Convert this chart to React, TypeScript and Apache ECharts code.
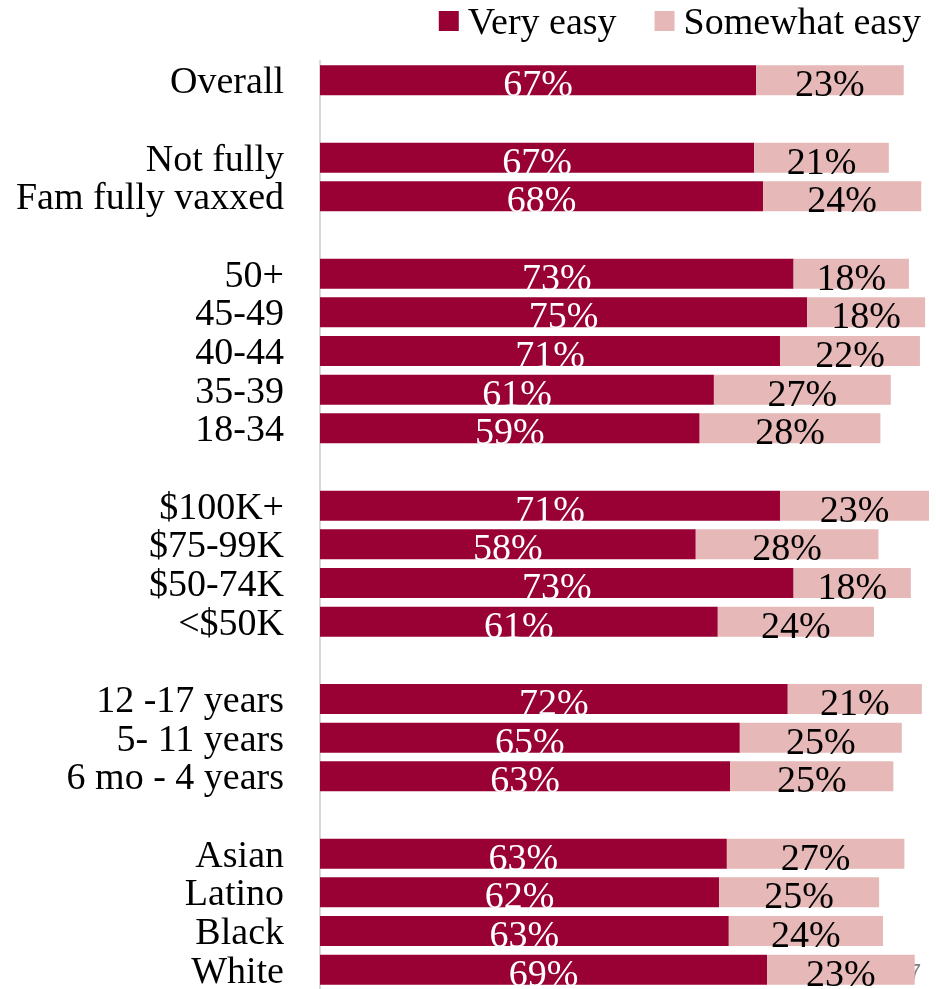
import React, { useEffect, useRef } from "react";
import * as echarts from "echarts";

const categories = [
  "Overall", " ",
  "Not fully", "Fam fully vaxxed", "  ",
  "50+", "45-49", "40-44", "35-39", "18-34", "   ",
  "$100K+", "$75-99K", "$50-74K", "<$50K", "    ",
  "12 -17 years", "5- 11 years", "6 mo - 4 years", "     ",
  "Asian", "Latino", "Black", "White",
];

const veryEasy: (number | null)[] = [
  67.3, null,
  67.0, 68.4, null,
  73.1, 75.2, 71.0, 60.8, 58.6, null,
  71.0, 58.0, 73.1, 61.4, null,
  72.2, 64.8, 63.3, null,
  62.8, 61.6, 63.1, 69.0,
];

const somewhatEasy: (number | null)[] = [
  22.8, null,
  20.8, 24.4, null,
  17.8, 18.2, 21.6, 27.3, 27.9, null,
  23.2, 28.2, 18.1, 24.1, null,
  20.7, 25.0, 25.2, null,
  27.4, 24.7, 23.8, 22.8,
];

const seriesNames = ["Very easy", "Somewhat easy"];

const FONT = "'Liberation Serif', 'Times New Roman', serif";

export default function App() {
  const ref = useRef<HTMLDivElement>(null);

  useEffect(() => {
    if (!ref.current) return;
    const chart = echarts.init(ref.current, null, { renderer: "svg" });
    const labelFmt = (p: any) =>
      p.value == null ? "" : Math.round(p.value) + "%";
    chart.setOption({
      animation: false,
      legend: {
        top: 2,
        right: 15,
        padding: 0,
        itemWidth: 20,
        itemHeight: 20,
        itemGap: 38,
        icon: "rect",
        textStyle: {
          fontFamily: FONT,
          fontSize: 38,
          color: "#000",
          padding: [0, 0, 0, 4],
        },
        data: seriesNames,
      },
      grid: { left: 320, top: 61, width: 609, height: 932 },
      xAxis: {
        type: "value",
        min: 0,
        max: 94,
        show: false,
      },
      yAxis: {
        type: "category",
        inverse: true,
        data: categories,
        axisLine: { show: true, lineStyle: { color: "#d9d9d9", width: 2 } },
        axisTick: { show: false },
        axisLabel: {
          interval: 0,
          fontFamily: FONT,
          fontSize: 38,
          color: "#000",
          margin: 36,
        },
      },
      series: [
        {
          name: seriesNames[0],
          type: "bar",
          stack: "total",
          barWidth: 30,
          data: veryEasy,
          itemStyle: { color: "#990033" },
          label: {
            show: true,
            position: "inside",
            formatter: labelFmt,
            fontFamily: FONT,
            fontSize: 38,
            color: "#fff",
            offset: [0, 3],
          },
        },
        {
          name: seriesNames[1],
          type: "bar",
          stack: "total",
          barWidth: 30,
          data: somewhatEasy,
          itemStyle: { color: "#e6b8b7" },
          label: {
            show: true,
            position: "inside",
            formatter: labelFmt,
            fontFamily: FONT,
            fontSize: 38,
            color: "#000",
            offset: [0, 3],
          },
        },
      ],
      graphic: [
        {
          type: "text",
          left: 909,
          top: 960,
          z: -10,
          style: {
            text: "7",
            fontFamily: "'Liberation Sans', sans-serif",
            fontSize: 22,
            fill: "#808080",
          },
        },
      ],
    });
    return () => chart.dispose();
  }, []);

  return (
    <div
      ref={ref}
      style={{ position: "fixed", left: 0, top: 0, width: 936, height: 989 }}
    />
  );
}
